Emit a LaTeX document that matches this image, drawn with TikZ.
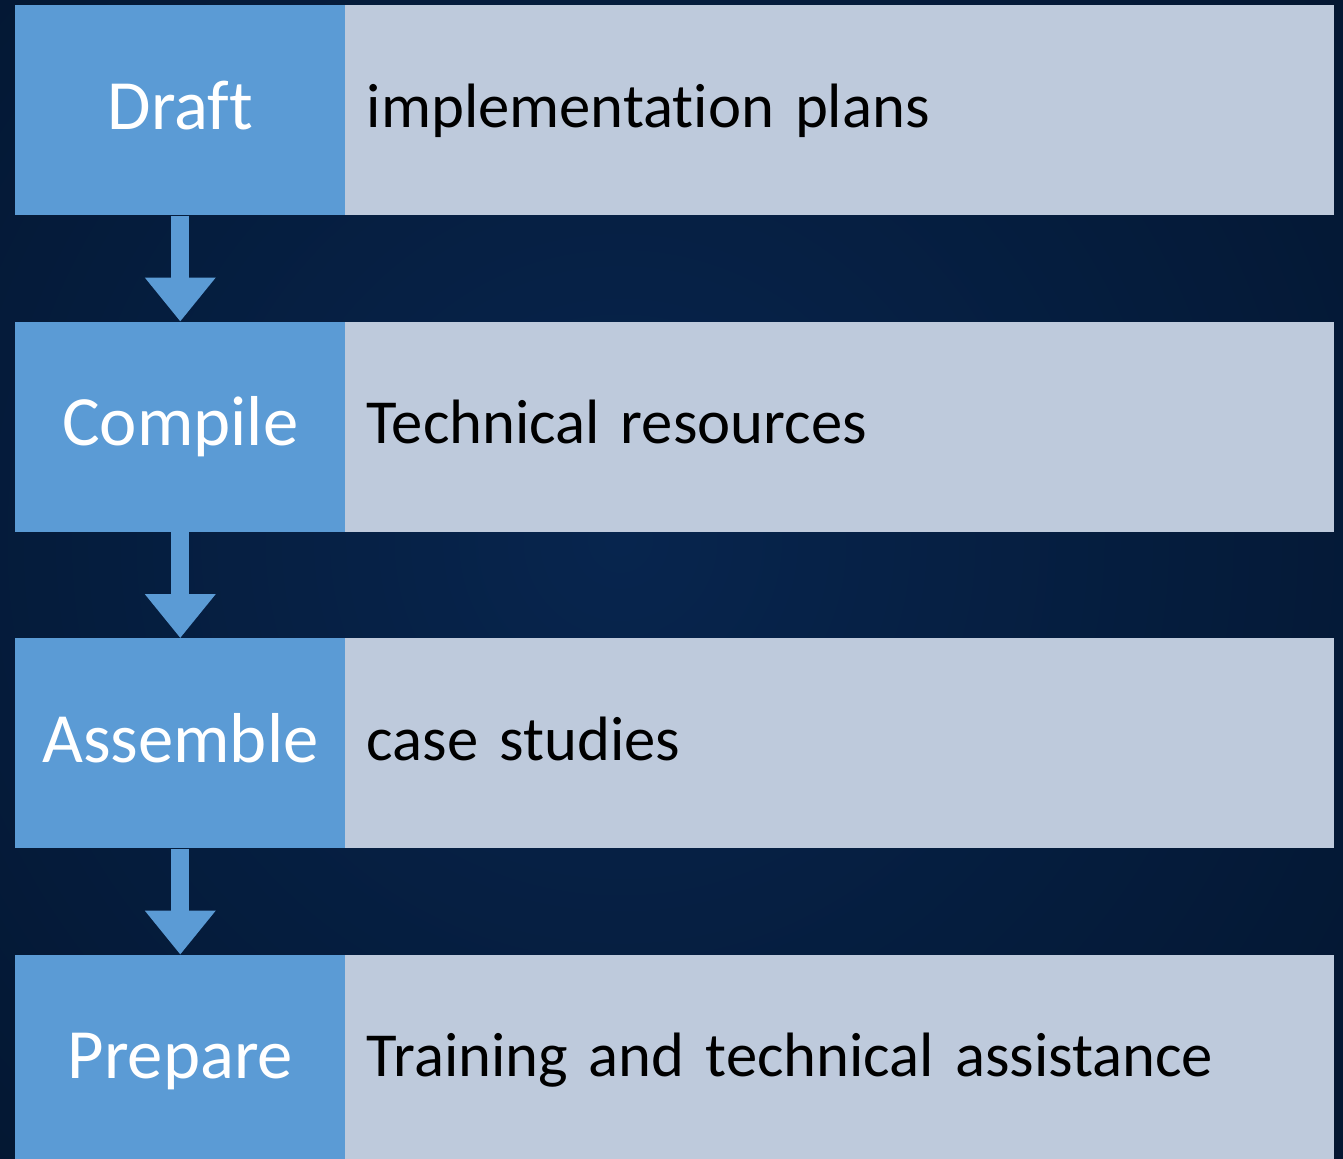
\documentclass[tikz,border=0pt]{standalone}
\usepackage{fontspec}
\setmainfont{Carlito}[Ligatures=NoCommon]
\usetikzlibrary{positioning,arrows.meta}
\definecolor{stepblue}{RGB}{91,155,213}
\definecolor{itemgrey}{RGB}{190,202,220}
\definecolor{bginner}{RGB}{7,37,78}
\definecolor{bgouter}{RGB}{0,6,16}
\begin{document}
\begin{tikzpicture}[x=0.75pt,y=-0.75pt,
  stepbox/.style={rectangle,fill=stepblue,text=white,minimum width=247.5pt,minimum height=157.5pt,
    inner sep=0pt,font=\fontsize{53}{60}\selectfont,text height=40.5pt,text depth=12pt},
  itembox/.style={rectangle,fill=itemgrey,text=black,minimum width=741.75pt,minimum height=157.5pt,
    inner xsep=16.5pt,inner ysep=0pt,text width=708.75pt,align=left,
    font=\fontsize{47}{54}\selectfont,text height=37.5pt,text depth=12pt},
  flow/.style={draw=stepblue,line width=13.5pt,-{Triangle[width=51pt,length=33pt]}}]
\useasboundingbox (0,0) rectangle (1343,1159);
\begin{scope}
\clip (0,0) rectangle (1343,1159);
\fill[inner color=bginner,outer color=bgouter] (620,540) circle (2000);
\node[stepbox,anchor=north west] (draft) at (15,5) {Draft};
\node[itembox,right=-0.75pt of draft] (plans) {implementation plans};
\node[stepbox,below=79.5pt of draft] (compile) {Compile};
\node[itembox,right=-0.75pt of compile] (resources) {Technical resources};
\node[stepbox,below=79.5pt of compile] (assemble) {Assemble};
\node[itembox,right=-0.75pt of assemble] (cases) {case studies};
\node[stepbox,below=79.5pt of assemble] (prepare) {Prepare};
\node[itembox,right=-0.75pt of prepare] (training) {Training and technical assistance};
\draw[flow] (draft.south) -- (compile.north);
\draw[flow] (compile.south) -- (assemble.north);
\draw[flow] (assemble.south) -- (prepare.north);
\end{scope}
\end{tikzpicture}
\end{document}
